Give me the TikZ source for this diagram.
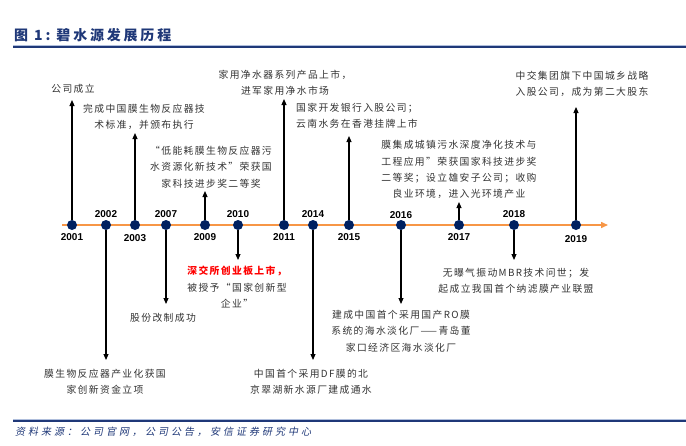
\documentclass[tikz,border=0pt]{standalone}
\usepackage{fontspec}
\usetikzlibrary{arrows.meta,positioning}
\setmainfont{Liberation Sans}
\newfontfamily\cjk[LetterSpace=14]{Noto Sans CJK SC}
\newfontfamily\cjkhead[LetterSpace=20]{Noto Sans CJK SC}
\newfontfamily\cjksrc[LetterSpace=30,FakeSlant=0.2]{Noto Sans CJK SC}
\definecolor{navy}{RGB}{0,32,96}
\definecolor{lineorange}{RGB}{247,150,70}
\definecolor{headblue}{RGB}{31,56,120}
\definecolor{rulelight}{RGB}{175,190,220}
\definecolor{txtgray}{RGB}{50,50,50}

\begin{document}
\begin{tikzpicture}[x=1pt,y=-1pt,
    dot/.style={circle,fill=navy,inner sep=0pt,minimum size=10pt},
    yr/.style={font=\bfseries\fontsize{10}{12}\selectfont,inner sep=0pt},
    txt/.style={font=\cjk\fontsize{9.8}{16.3}\selectfont,text=txtgray,align=center,inner sep=1pt},
    arr/.style={-{Triangle[length=6pt,width=5pt]},line width=1.1pt,shorten >=2pt}]
    \useasboundingbox (0,0) rectangle (686,445);
    \node[anchor=west,text=headblue,inner sep=0pt,font=\cjkhead\bfseries\fontsize{14}{16}\selectfont] (title) at (14,35) {图 1:\ 碧水源发展历程};
    \draw[rulelight,line width=0.8pt] (13,45) -- (686,45);
    \draw[headblue,line width=1.4pt] (13,47) -- (686,47);
    \coordinate (lstart) at (62,225);
    \coordinate (lend) at (608,225);
    \draw[lineorange,line width=1.5pt,-{Triangle[length=7pt,width=6pt]}] (lstart) -- (lend);
    \node[dot] (d2001) at (72,225) {};
    \node[dot] (d2002) at (106,225) {};
    \node[dot] (d2003) at (135,225) {};
    \node[dot] (d2007) at (166,225) {};
    \node[dot] (d2009) at (205,225) {};
    \node[dot] (d2010) at (238,225) {};
    \node[dot] (d2011) at (284,225) {};
    \node[dot] (d2014) at (313,225) {};
    \node[dot] (d2015) at (349,225) {};
    \node[dot] (d2016) at (401,225) {};
    \node[dot] (d2017) at (459,225) {};
    \node[dot] (d2018) at (514,225) {};
    \node[dot] (d2019) at (576,225) {};
    \node[yr,below=3pt of d2001] (y2001) {2001};
    \node[yr,above=2pt of d2002] (y2002) {2002};
    \node[yr,below=4pt of d2003] (y2003) {2003};
    \node[yr,above=2.5pt of d2007] (y2007) {2007};
    \node[yr,below=3pt of d2009] (y2009) {2009};
    \node[yr,above=2pt of d2010] (y2010) {2010};
    \node[yr,below=3pt of d2011] (y2011) {2011};
    \node[yr,above=2pt of d2014] (y2014) {2014};
    \node[yr,below=3pt of d2015] (y2015) {2015};
    \node[yr,above=1.5pt of d2016] (y2016) {2016};
    \node[yr,below=3pt of d2017] (y2017) {2017};
    \node[yr,above=2pt of d2018] (y2018) {2018};
    \node[yr,below=5pt of d2019] (y2019) {2019};
    \node[txt,anchor=south] (t2001) at (73,95) {公司成立};
    \node[txt,anchor=south] (t2003) at (144,131) {完成中国膜生物反应器技\\术标准，并颁布执行};
    \node[txt,anchor=south] (t2009) at (211,189) {“低能耗膜生物反应器污\\水资源化新技术”荣获国\\家科技进步奖二等奖};
    \node[txt,anchor=south] (t2011) at (285,97) {家用净水器系列产品上市，\\进军家用净水市场};
    \node[txt,anchor=south] (t2015) at (357,130) {国家开发银行入股公司；\\云南水务在香港挂牌上市};
    \node[txt,anchor=south] (t2017) at (459,200) {膜集成城镇污水深度净化技术与\\工程应用”荣获国家科技进步奖\\二等奖；设立雄安子公司；收购\\良业环境，进入光环境产业};
    \node[txt,anchor=south] (t2019) at (582,98) {中交集团旗下中国城乡战略\\入股公司，成为第二大股东};
    \node[txt,anchor=north] (t2002) at (105,368) {膜生物反应器产业化获国\\家创新资金立项};
    \node[txt,anchor=north] (t2007) at (163,312) {股份改制成功};
    \node[txt,anchor=north] (t2010) at (237,265) {{\color{red}\bfseries 深交所创业板上市，}\\被授予“国家创新型\\企业”};
    \node[txt,anchor=north] (t2014) at (311,368) {中国首个采用DF膜的北\\京翠湖新水源厂建成通水};
    \node[txt,anchor=north] (t2016) at (401,309) {建成中国首个采用国产RO膜\\系统的海水淡化厂——青岛董\\家口经济区海水淡化厂};
    \node[txt,anchor=north] (t2018) at (516,267) {无曝气振动MBR技术问世；发\\起成立我国首个纳滤膜产业联盟};
    \draw[arr,shorten >=5pt] (d2001) -- (d2001 |- t2001.south);
    \draw[arr] (d2003) -- (d2003 |- t2003.south);
    \draw[arr] (d2009) -- (d2009 |- t2009.south);
    \draw[arr] (d2011) -- (d2011 |- t2011.south);
    \draw[arr,shorten >=6pt] (d2015) -- (d2015 |- t2015.south);
    \draw[arr] (d2017) -- (d2017 |- t2017.south);
    \draw[arr,shorten >=9pt] (d2019) -- (d2019 |- t2019.south);
    \draw[arr,shorten >=8pt] (d2002) -- (d2002 |- t2002.north);
    \draw[arr,shorten >=8pt] (d2007) -- (d2007 |- t2007.north);
    \draw[arr,shorten >=5pt] (d2010) -- (d2010 |- t2010.north);
    \draw[arr,shorten >=8pt] (d2014) -- (d2014 |- t2014.north);
    \draw[arr,shorten >=5pt] (d2016) -- (d2016 |- t2016.north);
    \draw[arr,shorten >=7pt] (d2018) -- (d2018 |- t2018.north);
    \draw[rulelight,line width=0.8pt] (13,419) -- (686,419);
    \draw[headblue,line width=1.4pt] (13,421) -- (686,421);
    \node[anchor=west,text=headblue,inner sep=0pt,font=\cjksrc\fontsize{10}{12}\selectfont] (src) at (15,432) {资料来源：公司官网，公司公告，安信证券研究中心};
\end{tikzpicture}
\end{document}
